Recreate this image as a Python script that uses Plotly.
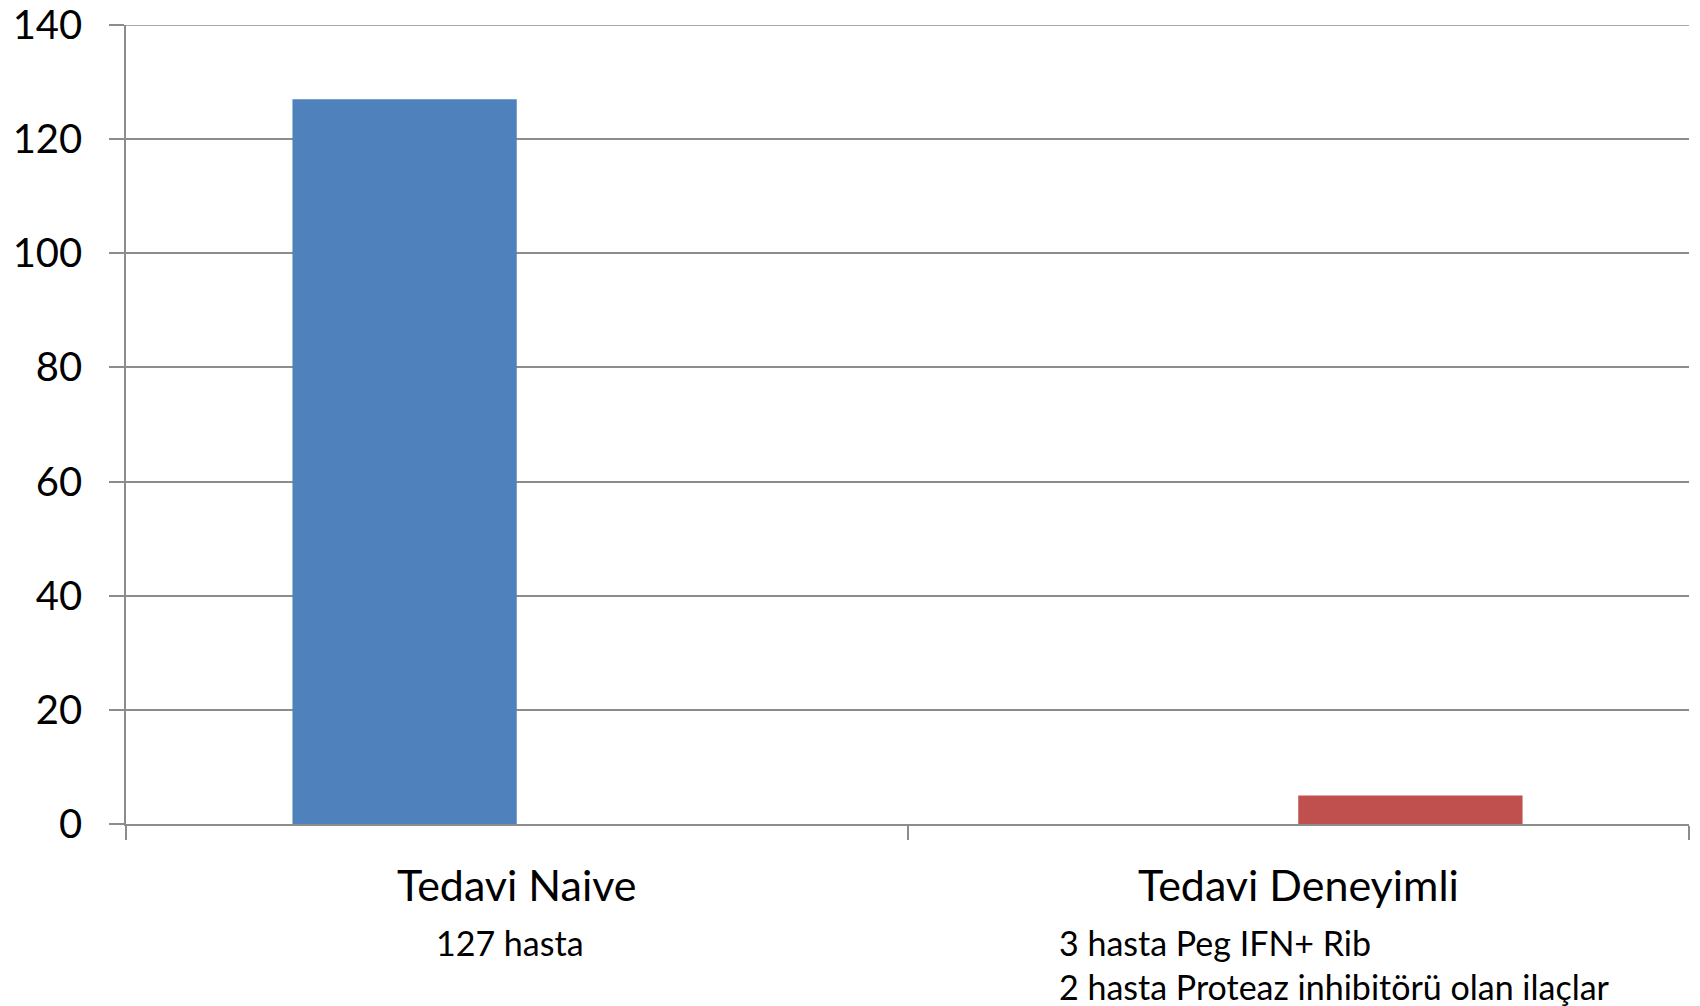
import plotly.graph_objects as go

categories = ["Tedavi Naive", "Tedavi Deneyimli"]
naive_values = [127, None]
deneyimli_values = [None, 5]
y_tick0 = 0
y_dtick = 20
y_max = 140
sub_naive = ["127 hasta"]
sub_deneyimli = ["3 hasta Peg IFN+ Rib", "2 hasta Proteaz inhibitörü olan ilaçlar"]

FONT = "Lato"
GRID = "#8C8C8C"

fig = go.Figure()
fig.add_trace(go.Bar(x=categories, y=naive_values, marker_color="#4F81BD", marker_line_width=0, name="Naive"))
fig.add_trace(go.Bar(x=categories, y=deneyimli_values, marker_color="#C0504D", marker_line_width=0, name="Deneyimli"))

annotations = []
for c in categories:
    annotations.append(dict(x=c, xref="x", y=0, yref="paper", yshift=-60, yanchor="middle",
                            xanchor="center", text=c, showarrow=False,
                            font=dict(family=FONT, size=43, color="black")))
annotations.append(dict(x=categories[0], xref="x", y=0, yref="paper", yshift=-118, yanchor="middle",
                        xanchor="center", xshift=-7, text=sub_naive[0], showarrow=False,
                        font=dict(family=FONT, size=34, color="black")))
for i, t in enumerate(sub_deneyimli):
    annotations.append(dict(x=categories[1], xref="x", y=0, yref="paper", yshift=-118 - 44 * i,
                            yanchor="middle", xanchor="left", xshift=-241, text=t, showarrow=False,
                            font=dict(family=FONT, size=34, color="black")))

# top gridline (plotly omits gridlines at the plot edge)
shapes = [dict(type="line", xref="paper", yref="y", x0=0, x1=1, y0=y_max, y1=y_max,
               line=dict(color=GRID, width=1.5), layer="below")]

fig.update_layout(
    width=1700, height=1006,
    margin=dict(l=126, r=11, t=25, b=182),
    paper_bgcolor="white", plot_bgcolor="white",
    barmode="group", bargap=0.426, bargroupgap=0,
    showlegend=False,
    annotations=annotations,
    shapes=shapes,
    xaxis=dict(showticklabels=False, ticks="outside", tickson="boundaries", ticklen=14,
               tickcolor=GRID, tickwidth=1.5, showline=True, linecolor=GRID, linewidth=1.5,
               showgrid=False, mirror=False, automargin=False),
    yaxis=dict(range=[0, y_max], tickmode="linear", tick0=y_tick0, dtick=y_dtick,
               ticks="outside", ticklen=15, tickcolor=GRID,
               tickwidth=1.5, showline=True, linecolor=GRID, linewidth=1.5,
               showgrid=True, gridcolor=GRID, gridwidth=1.5, zeroline=False,
               ticklabelstandoff=19, ticklabeloverflow="allow", automargin=False,
               tickfont=dict(family=FONT, size=40, color="black")),
)

fig.write_html("out.html", config={"displayModeBar": False},
               post_script="document.body.style.margin='0px';document.body.style.overflow='hidden';")
